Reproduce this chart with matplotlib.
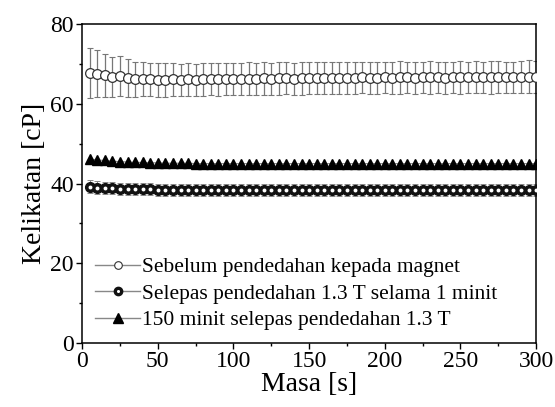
import matplotlib.pyplot as plt
from matplotlib.ticker import MultipleLocator

plt.rcParams["font.family"] = ["Liberation Serif", "DejaVu Serif"]

# time in seconds, one reading every 5 s
time_s = [5 * (i + 1) for i in range(60)]

before = [
    67.7, 67.5, 67.1, 66.8, 66.9, 66.5, 66.2, 66.2, 66.1, 66.0,
    66.0, 66.1, 66.0, 66.1, 66.0, 66.1, 66.2, 66.1, 66.2, 66.3,
    66.2, 66.3, 66.3, 66.4, 66.3, 66.4, 66.4, 66.3, 66.4, 66.5,
    66.4, 66.5, 66.5, 66.4, 66.5, 66.5, 66.6, 66.5, 66.5, 66.6,
    66.5, 66.6, 66.6, 66.5, 66.6, 66.6, 66.6, 66.5, 66.6, 66.6,
    66.6, 66.7, 66.6, 66.6, 66.7, 66.6, 66.6, 66.7, 66.8, 66.7,
]
before_err = [
    6.3, 5.9, 5.5, 5.0, 5.0, 4.7, 4.4, 4.3, 4.2, 4.2,
    4.2, 4.1, 4.1, 4.1, 4.1, 4.1, 4.1, 4.1, 4.1, 4.0,
    4.1, 4.1, 4.0, 4.1, 4.0, 4.1, 4.0, 4.0, 4.1, 4.0,
    4.0, 4.1, 4.0, 4.0, 4.1, 4.0, 4.0, 4.1, 4.0, 4.0,
    4.0, 4.1, 4.0, 4.0, 4.0, 4.1, 4.0, 4.0, 4.0, 4.1,
    4.0, 4.0, 4.0, 4.1, 4.0, 4.0, 4.0, 4.1, 4.1, 4.0,
]
after_1min = [
    39.2, 39.0, 38.9, 38.8, 38.7, 38.7, 38.6, 38.6, 38.6, 38.5,
    38.5, 38.5, 38.5, 38.5, 38.5, 38.5, 38.4, 38.5, 38.4, 38.4,
    38.4, 38.4, 38.4, 38.4, 38.4, 38.4, 38.4, 38.4, 38.4, 38.4,
    38.4, 38.4, 38.3, 38.4, 38.3, 38.4, 38.3, 38.3, 38.3, 38.3,
    38.3, 38.3, 38.3, 38.3, 38.3, 38.3, 38.3, 38.3, 38.3, 38.3,
    38.3, 38.3, 38.3, 38.3, 38.3, 38.3, 38.3, 38.3, 38.3, 38.3,
]
after_1min_err = [
    1.6, 1.6, 1.5, 1.5, 1.5, 1.5, 1.5, 1.5, 1.5, 1.5,
    1.5, 1.5, 1.5, 1.5, 1.5, 1.5, 1.5, 1.5, 1.5, 1.5,
    1.5, 1.5, 1.5, 1.5, 1.5, 1.5, 1.5, 1.5, 1.5, 1.5,
    1.5, 1.5, 1.5, 1.5, 1.5, 1.5, 1.5, 1.5, 1.5, 1.5,
    1.5, 1.5, 1.5, 1.5, 1.5, 1.5, 1.5, 1.5, 1.5, 1.5,
    1.5, 1.5, 1.5, 1.5, 1.5, 1.5, 1.5, 1.5, 1.5, 1.5,
]
after_150min = [
    46.2, 45.9, 45.8, 45.6, 45.5, 45.4, 45.3, 45.3, 45.2, 45.2,
    45.1, 45.1, 45.1, 45.1, 45.0, 45.0, 45.0, 45.0, 45.0, 45.0,
    45.0, 45.0, 45.0, 45.0, 45.0, 45.0, 45.0, 45.0, 45.0, 45.0,
    45.0, 45.0, 45.0, 45.0, 45.0, 45.0, 45.0, 45.0, 45.0, 45.0,
    45.0, 45.0, 45.0, 45.0, 45.0, 45.0, 45.0, 45.0, 45.0, 45.0,
    45.0, 45.0, 45.0, 45.0, 45.0, 45.0, 45.0, 45.0, 45.0, 45.0,
]

labels = [
    "Sebelum pendedahan kepada magnet",
    "Selepas pendedahan 1.3 T selama 1 minit",
    "150 minit selepas pendedahan 1.3 T",
]

fig = plt.figure(figsize=(5.55, 4.07), dpi=100)
ax = fig.add_axes([0.148, 0.157, 0.818, 0.784])

ax.errorbar(time_s, before, yerr=before_err, fmt="none", ecolor="#777777",
            elinewidth=0.9, capsize=2.5, capthick=0.8, zorder=1)
ax.errorbar(time_s, after_1min, yerr=after_1min_err, fmt="none", ecolor="#888888",
            elinewidth=0.8, capsize=2.2, capthick=0.7, zorder=1)

ax.plot(time_s, before, color="#888888", lw=0.8, marker="o", ms=7,
        mfc="white", mec="#333333", mew=0.9, zorder=3)
ax.plot(time_s, after_150min, color="#888888", lw=0.8, marker="^", ms=7.5,
        mfc="black", mec="black", zorder=3)
ax.plot(time_s, after_1min, color="#888888", lw=0.8, marker="o", ms=7,
        mfc="#111111", mec="#111111", zorder=3)
ax.plot(time_s, after_1min, ls="none", marker="o", ms=2.8,
        mfc="white", mec="none", zorder=4)

# legend handles: gray line with a smaller marker in the middle
h1, = ax.plot([], [], color="#888888", lw=1, marker="o", ms=5.5,
              mfc="white", mec="#333333", mew=0.8)
h2a, = ax.plot([], [], color="#888888", lw=1, marker="o", ms=6,
               mfc="#111111", mec="#111111")
h2b, = ax.plot([], [], ls="none", marker="o", ms=2.2, mfc="white", mec="none")
h3, = ax.plot([], [], color="#888888", lw=1, marker="^", ms=7,
              mfc="black", mec="black")
ax.legend([h1, (h2a, h2b), h3], labels, loc="lower left",
          bbox_to_anchor=(0.0, 0.0), frameon=False, fontsize=15.5,
          handlelength=2.1, handletextpad=0.1, labelspacing=0.3,
          borderaxespad=0.2)

ax.set_xlim(0, 300)
ax.set_ylim(0, 80)
ax.xaxis.set_major_locator(MultipleLocator(50))
ax.xaxis.set_minor_locator(MultipleLocator(25))
ax.yaxis.set_major_locator(MultipleLocator(20))
ax.yaxis.set_minor_locator(MultipleLocator(10))
ax.tick_params(which="major", direction="out", length=4, width=1, labelsize=17, pad=2)
ax.tick_params(which="minor", direction="out", length=2.5, width=1)
for s in ax.spines.values():
    s.set_linewidth(1.1)

ax.set_xlabel("Masa [s]", fontsize=20, labelpad=0)
ax.set_ylabel("Kelikatan [cP]", fontsize=20, labelpad=2)

fig.savefig("out.png", dpi=100)
